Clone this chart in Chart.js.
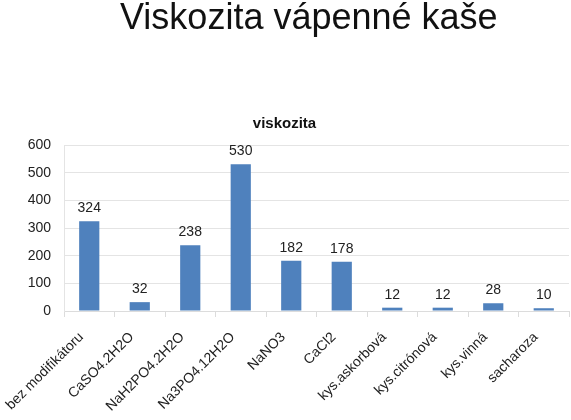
<!DOCTYPE html>
<html lang="cs">
<head>
    <meta charset="UTF-8">
    <title>Viskozita vápenné kaše</title>
    <style>
        body {
            margin: 0;
            background: #ffffff;
            font-family: "Liberation Sans", Arial, sans-serif;
        }
        .wrap {
            position: relative;
            width: 571px;
            height: 420px;
            overflow: hidden;
        }
        .main-title {
            position: absolute;
            left: 120px;
            top: -4px;
            font-size: 36px;
            line-height: normal;
            color: #111;
            white-space: nowrap;
        }
        canvas {
            position: absolute;
            left: 0;
            top: 0;
        }
    </style>
</head>
<body>
    <div class="wrap">
        <canvas id="viskChart" width="571" height="420"></canvas>
        <div class="main-title">Viskozita vápenné kaše</div>
    </div>
    <script src="https://cdn.jsdelivr.net/npm/chart.js"></script>
    <script>
        // data
        const categories = ['bez modifikátoru', 'CaSO4.2H2O', 'NaH2PO4.2H2O', 'Na3PO4.12H2O', 'NaNO3',
            'CaCl2', 'kys.askorbová', 'kys.citrónová', 'kys.vinná', 'sacharoza'];
        const viskozita = [324, 32, 238, 530, 182, 178, 12, 12, 28, 10];
        const yTicks = [0, 100, 200, 300, 400, 500, 600];

        const fontFamily = '"Liberation Sans", Arial, sans-serif';

        // value labels above each bar
        const valueLabels = {
            id: 'valueLabels',
            afterDatasetsDraw(chart) {
                const ctx = chart.ctx;
                const meta = chart.getDatasetMeta(0);
                ctx.save();
                ctx.font = '14px ' + fontFamily;
                ctx.fillStyle = '#222';
                ctx.textAlign = 'center';
                ctx.textBaseline = 'bottom';
                meta.data.forEach((bar, i) => {
                    ctx.fillText(String(viskozita[i]), bar.x, bar.y - 6);
                });
                ctx.restore();
            }
        };

        new Chart(document.getElementById('viskChart'), {
            type: 'bar',
            data: {
                labels: categories,
                datasets: [{
                    label: 'viskozita',
                    data: viskozita,
                    backgroundColor: '#4f81bd',
                    borderWidth: 0,
                    barPercentage: 0.4,
                    categoryPercentage: 1.0
                }]
            },
            options: {
                responsive: false,
                animation: false,
                layout: { padding: { top: 0, right: 2, bottom: 0, left: 0 } },
                plugins: {
                    legend: { display: false },
                    tooltip: { enabled: false },
                    title: {
                        display: true,
                        text: 'viskozita',
                        color: '#111',
                        font: { family: fontFamily, size: 15, weight: 'bold' },
                        padding: { top: 115, bottom: 12 }
                    }
                },
                scales: {
                    x: {
                        grid: {
                            offset: true,
                            drawOnChartArea: false,
                            drawTicks: true,
                            tickLength: 6,
                            color: '#dcdcdc'
                        },
                        border: { color: '#dcdcdc' },
                        ticks: {
                            color: '#222',
                            font: { family: fontFamily, size: 14 },
                            minRotation: 45,
                            maxRotation: 45,
                            autoSkip: false,
                            padding: 12,
                            labelOffset: -8
                        },
                        afterFit(scale) {
                            scale.paddingLeft = 0;
                            scale.paddingRight = 0;
                            scale.height = 109;
                        }
                    },
                    y: {
                        min: 0,
                        max: 600,
                        afterBuildTicks(scale) {
                            scale.ticks = yTicks.map(v => ({ value: v }));
                        },
                        grid: {
                            color: '#e4e4e4',
                            drawTicks: false
                        },
                        border: { color: '#e4e4e4' },
                        ticks: {
                            color: '#222',
                            font: { family: fontFamily, size: 14 },
                            padding: 13
                        },
                        afterFit(scale) {
                            scale.width = 64;
                        }
                    }
                }
            },
            plugins: [valueLabels]
        });
    </script>
</body>
</html>
